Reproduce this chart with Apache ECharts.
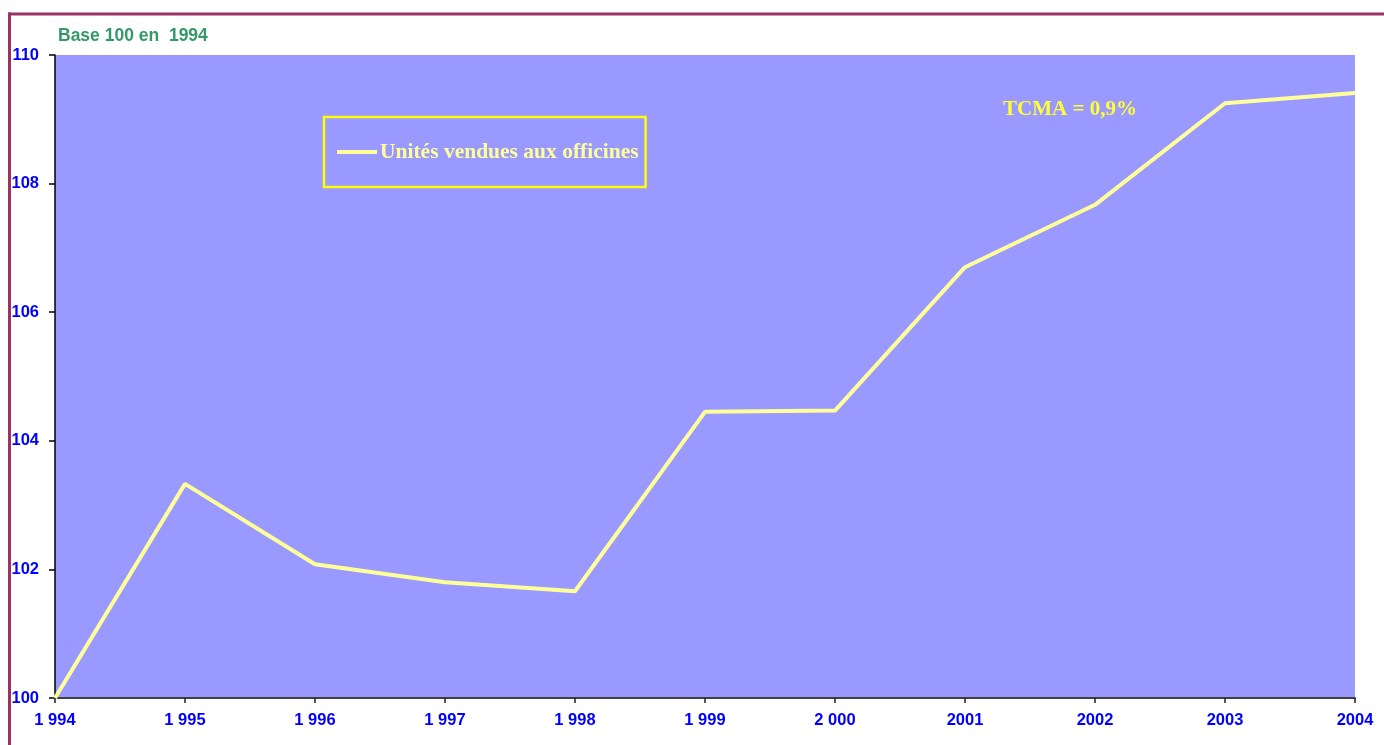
<!DOCTYPE html>
<html>
<head>
<meta charset="utf-8">
<script src="https://cdn.jsdelivr.net/npm/echarts@6/dist/echarts.min.js"></script>
<style>
  html, body { margin: 0; padding: 0; background: #ffffff; }
  #chart { width: 1384px; height: 745px; }
</style>
</head>
<body>
<div id="chart"></div>
<script>
// Years and their axis labels (as printed)
const years = ['1994', '1995', '1996', '1997', '1998', '1999', '2000', '2001', '2002', '2003', '2004'];
const yearLabels = ['1 994', '1 995', '1 996', '1 997', '1 998', '1 999', '2 000', '2001', '2002', '2003', '2004'];

// Units sold to pharmacies, index base 100 in 1994
const seriesName = 'Unités vendues aux officines';
const unitsIndex = [100, 103.33, 102.08, 101.80, 101.66, 104.45, 104.47, 106.70, 107.67, 109.25, 109.41];

const subtitle = 'Base 100 en  1994';
const growthNote = 'TCMA = 0,9%';

const chart = echarts.init(document.getElementById('chart'), null, { renderer: 'canvas' });

chart.setOption({
  animation: false,
  backgroundColor: '#ffffff',
  grid: {
    left: 55, right: 29, top: 55, bottom: 47,
    show: true, backgroundColor: '#9999FF', borderWidth: 0
  },
  title: {
    text: subtitle,
    left: 53, top: 22,
    textStyle: { fontFamily: 'Arial, Liberation Sans, sans-serif', fontSize: 17.5, fontWeight: 'bold', color: '#339966' }
  },
  legend: {
    data: [seriesName],
    left: 324, top: 117,
    orient: 'horizontal',
    icon: 'rect',
    itemWidth: 40, itemHeight: 4,
    padding: [24, 7, 24, 13],
    borderColor: '#FFFF00', borderWidth: 2.5,
    textStyle: { fontFamily: 'Times New Roman, Liberation Serif, serif', fontSize: 21.5, fontWeight: 'bold', color: '#FFFF99', padding: [0, 0, 0, -2] },
    selectedMode: false
  },
  graphic: [
    { type: 'line', shape: { x1: 8, y1: 14, x2: 1384, y2: 14 }, style: { stroke: '#993366', lineWidth: 3 } },
    { type: 'line', shape: { x1: 9.5, y1: 12.5, x2: 9.5, y2: 745 }, style: { stroke: '#993366', lineWidth: 3 } },
    {
      type: 'text', left: 1003, top: 99,
      style: { text: growthNote, font: 'bold 21px "Times New Roman", "Liberation Serif", serif', fill: '#FFFF33' }
    }
  ],
  xAxis: {
    type: 'category',
    data: years,
    boundaryGap: false,
    axisLine: { lineStyle: { color: '#404040', width: 2 } },
    axisTick: { show: true, length: 5, lineStyle: { color: '#202020', width: 1.5 } },
    axisLabel: {
      formatter: (v, i) => yearLabels[i],
      margin: 14,
      fontFamily: 'Arial, Liberation Sans, sans-serif', fontSize: 16.5, fontWeight: 'bold', color: '#0000FF'
    },
    splitLine: { show: false }
  },
  yAxis: {
    type: 'value',
    min: 100, max: 110, interval: 2,
    axisLine: { show: true, lineStyle: { color: '#000000', width: 1.5 } },
    axisTick: { show: true, length: 6, lineStyle: { color: '#000000', width: 1.5 } },
    axisLabel: {
      margin: 16,
      fontFamily: 'Arial, Liberation Sans, sans-serif', fontSize: 16.5, fontWeight: 'bold', color: '#0000FF'
    },
    splitLine: { show: false }
  },
  series: [{
    name: seriesName,
    type: 'line',
    data: unitsIndex,
    showSymbol: false,
    symbol: 'none',
    lineStyle: { color: '#FFFF99', width: 4 },
    itemStyle: { color: '#FFFF99' }
  }]
});
</script>
</body>
</html>
